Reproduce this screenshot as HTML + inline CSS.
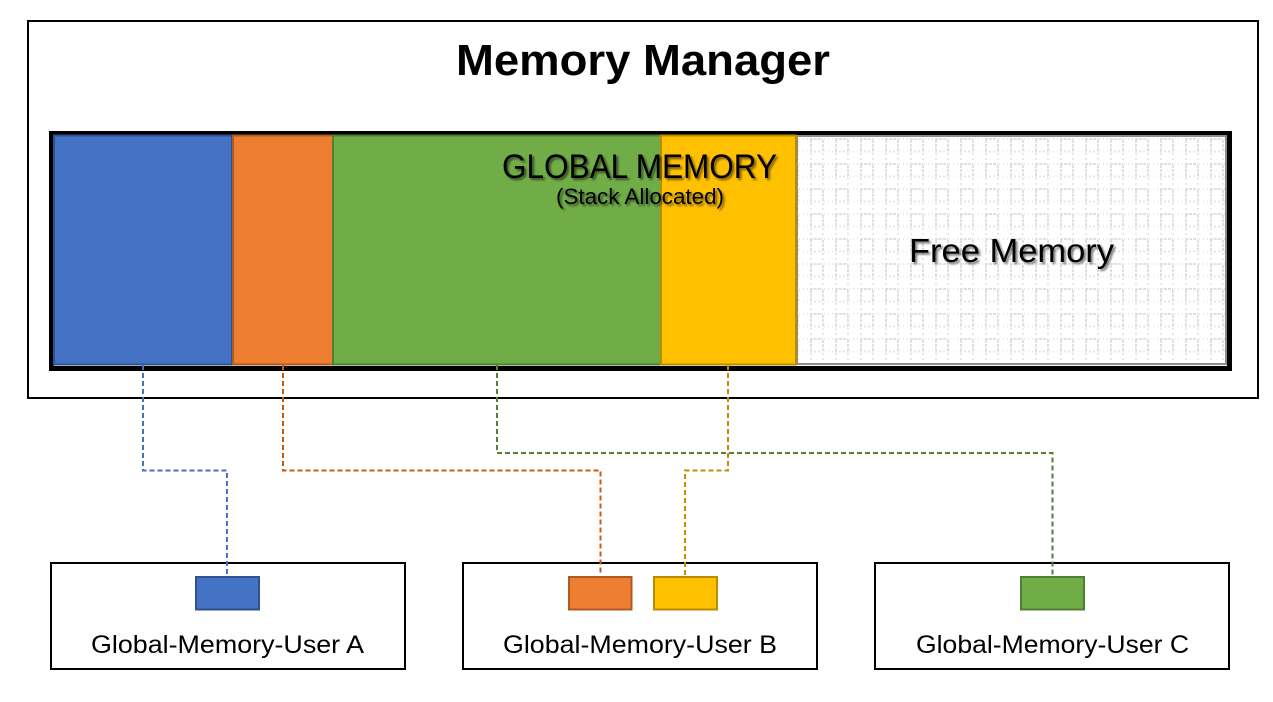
<!DOCTYPE html>
<html>
<head>
<meta charset="utf-8">
<style>
html,body{margin:0;padding:0;background:#fff;width:1273px;height:702px;overflow:hidden}
svg{display:block}
text{font-family:"Liberation Sans",sans-serif;fill:#000}
</style>
</head>
<body>
<svg width="1273" height="702" viewBox="0 0 1273 702" xmlns="http://www.w3.org/2000/svg">
<defs>
<pattern id="p" x="810" y="138" width="25" height="25" patternUnits="userSpaceOnUse">
<g shape-rendering="crispEdges">
<path d="M0 1H13" stroke="#e0e0e0" stroke-width="2" stroke-dasharray="3 1"/>
<path d="M14 1H25" stroke="#e6e6e6" stroke-width="2" stroke-dasharray="1 3"/>
<path d="M0 13.500H13" stroke="#e6e6e6" stroke-width="2" stroke-dasharray="2 2"/>
<path d="M14 13.500H25" stroke="#ebebeb" stroke-width="2" stroke-dasharray="1 3"/>
<path d="M1 2V13M13 2V13" stroke="#e0e0e0" stroke-width="2" stroke-dasharray="3 1"/>
<path d="M1 15V25M13 15V25" stroke="#e8e8e8" stroke-width="2" stroke-dasharray="2 3"/>
</g>
</pattern>
<filter id="s" x="-5%" y="-20%" width="110%" height="140%">
<feGaussianBlur in="SourceAlpha" stdDeviation="1.1"/>
<feOffset dx="2" dy="2"/>
<feComponentTransfer><feFuncA type="linear" slope=".55"/></feComponentTransfer>
<feMerge><feMergeNode/><feMergeNode in="SourceGraphic"/></feMerge>
</filter>
</defs>

<rect x="28" y="21" width="1230" height="377" fill="#fff" stroke="#000" stroke-width="2"/>
<text x="456" y="75" font-size="44" font-weight="bold" textLength="374" lengthAdjust="spacingAndGlyphs">Memory Manager</text>

<rect x="49" y="131" width="1183" height="240" fill="#000"/>
<rect x="54" y="135" width="1173" height="231" fill="#fff"/>

<rect x="797" y="136" width="429" height="228" fill="url(#p)" stroke="#8c8c8c" stroke-width="2"/>
<rect x="54" y="135.500" width="178" height="229" fill="#4472c4" stroke="#2f528f" stroke-width="2"/>
<rect x="233" y="135.500" width="100" height="229" fill="#ed7d31" stroke="#ae5a21" stroke-width="2"/>
<rect x="333" y="135.500" width="328" height="229" fill="#70ad47" stroke="#507e32" stroke-width="2"/>
<rect x="661" y="135.500" width="135" height="229" fill="#ffc000" stroke="#bc8c00" stroke-width="2"/>

<text x="502" y="178" font-size="34" textLength="275" lengthAdjust="spacingAndGlyphs" filter="url(#s)">GLOBAL MEMORY</text>
<text x="556" y="204" font-size="22" textLength="168" lengthAdjust="spacingAndGlyphs" filter="url(#s)">(Stack Allocated)</text>
<text x="909" y="262" font-size="33" textLength="205" lengthAdjust="spacingAndGlyphs" filter="url(#s)">Free Memory</text>

<g fill="#fff" stroke="#000" stroke-width="2">
<rect x="51" y="563" width="354" height="106"/>
<rect x="463" y="563" width="354" height="106"/>
<rect x="875" y="563" width="354" height="106"/>
</g>

<g fill="none" stroke-width="2" stroke-dasharray="5 3">
<path d="M143 365V470.500H227V575" stroke="#4472c4"/>
<path d="M283 365V470.500H600.500V575" stroke="#c55a11"/>
<path d="M728 365V470.500H685V575" stroke="#bf9000"/>
<path d="M497 365V453H1052.500V575" stroke="#548235"/>
</g>

<rect x="196" y="577" width="63" height="32.500" fill="#4472c4" stroke="#2f528f" stroke-width="2"/>
<rect x="569" y="577" width="62.500" height="32.500" fill="#ed7d31" stroke="#ae5a21" stroke-width="2"/>
<rect x="654" y="577" width="63" height="32.500" fill="#ffc000" stroke="#bc8c00" stroke-width="2"/>
<rect x="1021" y="577" width="63" height="32.500" fill="#70ad47" stroke="#507e32" stroke-width="2"/>

<text x="91" y="653" font-size="25" textLength="273" lengthAdjust="spacingAndGlyphs">Global-Memory-User A</text>
<text x="503" y="653" font-size="25" textLength="274" lengthAdjust="spacingAndGlyphs">Global-Memory-User B</text>
<text x="916" y="653" font-size="25" textLength="273" lengthAdjust="spacingAndGlyphs">Global-Memory-User C</text>
</svg>
</body>
</html>
